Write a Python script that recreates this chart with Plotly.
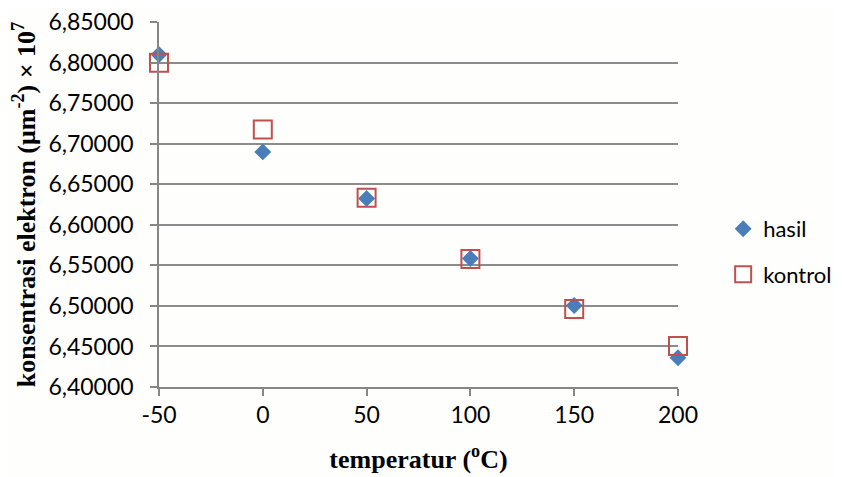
import plotly.graph_objects as go

temperatur = [-50, 0, 50, 100, 150, 200]
hasil = [6.8100, 6.6900, 6.6325, 6.5585, 6.5005, 6.4360]
kontrol = [6.8000, 6.7175, 6.6335, 6.5578, 6.4962, 6.4505]
x_ticks = [-50, 0, 50, 100, 150, 200]
x_tick_labels = ["-50", "0", "50", "100", "150", "200"]
y_ticks = [6.40, 6.45, 6.50, 6.55, 6.60, 6.65, 6.70, 6.75, 6.80, 6.85]

fig = go.Figure()
fig.add_trace(go.Scatter(
    x=temperatur, y=hasil, mode="markers", name="hasil", legendgroup="a",
    cliponaxis=False,
    marker=dict(symbol="diamond", size=13, color="#4a7ebb",
                line=dict(width=0)),
))
fig.add_trace(go.Scatter(
    x=temperatur, y=kontrol, mode="markers", name="kontrol", legendgroup="b",
    cliponaxis=False,
    marker=dict(symbol="square-open", size=18, color="#c0504d",
                line=dict(width=2, color="#c0504d")),
))

fig.update_layout(
    width=843, height=477,
    margin=dict(l=151, r=173, t=14, b=98, autoexpand=False),
    paper_bgcolor="#fefefc", plot_bgcolor="rgba(0,0,0,0)",
    separators=",.",
    font=dict(family="Lato", size=23, color="#000000"),
    showlegend=True,
    legend=dict(x=1.087, y=0.37, xanchor="left", yanchor="middle",
                font=dict(family="Lato", size=22), tracegroupgap=14,
                bgcolor="rgba(0,0,0,0)"),
)
fig.update_xaxes(
    range=[-50, 200], tickvals=x_ticks, ticktext=x_tick_labels,
    ticks="outside", ticklen=7, automargin=False,
    tickcolor="#868686", tickwidth=1.5,
    showgrid=False, zeroline=False,
    showline=True, linecolor="#868686", linewidth=1.5,
    tickfont=dict(family="Lato", size=23),
    title=dict(text="<b>temperatur (<sup>o</sup>C)</b>",
               font=dict(family="Liberation Serif", size=26), standoff=22),
)
fig.update_yaxes(
    range=[6.40, 6.8502], tickvals=y_ticks, tickformat=".5f",
    ticks="outside", ticklen=7, tickcolor="#868686", tickwidth=1.5,
    ticklabelstandoff=12, ticklabeloverflow="allow", automargin=False,
    showgrid=True, gridcolor="#8c8c8c", gridwidth=1.5, zeroline=False,
    showline=True, linecolor="#868686", linewidth=1.5,
    tickfont=dict(family="Lato", size=23),
    title=dict(text="<b>konsentrasi elektron (μm<sup>-2</sup>) × 10<sup>7</sup></b>",
               font=dict(family="Liberation Serif", size=26), standoff=8),
)

fig.write_html("out.html")
